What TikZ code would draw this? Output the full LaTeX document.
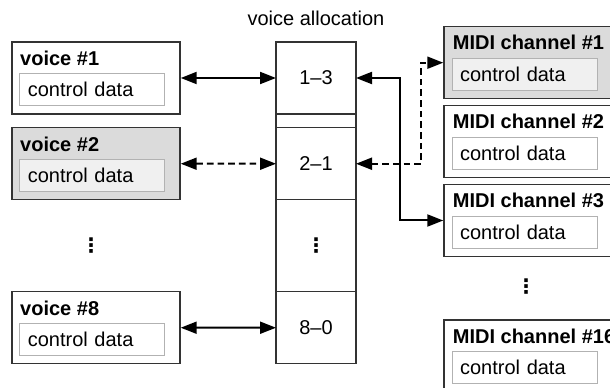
\documentclass[tikz,border=0pt]{standalone}
\usepackage{fontspec}
\setmainfont{Liberation Sans}
\newfontfamily\dotsfont{DejaVu Sans}
\usetikzlibrary{arrows.meta, positioning}

\begin{document}
\begin{tikzpicture}[
    x=0.75pt, y=-0.75pt,
    font=\fontsize{15}{17}\selectfont,
    chanbox/.style={rectangle, draw=black!80, line width=1.1pt, minimum width=126pt, minimum height=54pt, inner sep=0pt},
    databox/.style={rectangle, draw=black!30, line width=0.8pt, text width=96.75pt, minimum height=24pt, inner xsep=6pt, inner ysep=0pt, align=left, anchor=north west},
    celltitle/.style={font=\fontsize{15}{17}\selectfont\bfseries, inner sep=0pt, anchor=base west},
    alloccell/.style={rectangle, draw=black!80, line width=1.1pt, minimum width=60pt, inner sep=0pt, outer sep=0pt},
    vdotsmark/.style={font=\dotsfont\bfseries\fontsize{15}{17}\selectfont},
    link/.style={{Triangle[length=12pt,width=9pt]}-{Triangle[length=12pt,width=9pt]}, line width=1.5pt},
    dashlink/.style={link, dash pattern=on 5pt off 3pt}
]
\useasboundingbox (0,0) rectangle (610,388);
\clip (0,0) rectangle (610,388);

% voices
\node[chanbox] (voice1) at (96,78) {};
\node[celltitle] (voice1title) at ([xshift=6.5pt,yshift=-18.5pt]voice1.north west) {voice \#1};
\node[databox] (voice1data) at ([xshift=6pt,yshift=-24pt]voice1.north west) {control data};

\node[chanbox, fill=black!14] (voice2) at (96,163.7) {};
\node[celltitle] (voice2title) at ([xshift=6.5pt,yshift=-18.5pt]voice2.north west) {voice \#2};
\node[databox, fill=black!6] (voice2data) at ([xshift=6pt,yshift=-24pt]voice2.north west) {control data};

\node[vdotsmark] (voicedots) at (91,246) {⋮};

\node[chanbox] (voice8) at (96,327.7) {};
\node[celltitle] (voice8title) at ([xshift=6.5pt,yshift=-18.5pt]voice8.north west) {voice \#8};
\node[databox] (voice8data) at ([xshift=6pt,yshift=-24pt]voice8.north west) {control data};

% voice allocation table
\node[alloccell, minimum height=54pt] (alloc13) at (316,78) {1--3};
\node[alloccell, minimum height=10.3pt, below=0pt of alloc13] (allocgap) {};
\node[alloccell, minimum height=54pt, below=0pt of allocgap] (alloc21) {2--1};
\node[alloccell, minimum height=69pt, below=0pt of alloc21] (allocdots) {};
\node[vdotsmark] (allocdotsmark) at (allocdots) {⋮};
\node[alloccell, minimum height=54pt, below=0pt of allocdots] (alloc80) {8--0};
\node[anchor=base] (alloctitle) at (316,25.5) {voice allocation};

% MIDI channels
\node[chanbox, fill=black!14] (ch1) at (528,62.7) {};
\node[celltitle] (ch1title) at ([xshift=7pt,yshift=-18pt]ch1.north west) {MIDI channel \#1};
\node[databox, fill=black!6] (ch1data) at ([xshift=6.2pt,yshift=-24pt]ch1.north west) {control data};

\node[chanbox] (ch2) at (528,141.5) {};
\node[celltitle] (ch2title) at ([xshift=7pt,yshift=-18pt]ch2.north west) {MIDI channel \#2};
\node[databox] (ch2data) at ([xshift=6.2pt,yshift=-24pt]ch2.north west) {control data};

\node[chanbox] (ch3) at (528,220.5) {};
\node[celltitle] (ch3title) at ([xshift=7pt,yshift=-18pt]ch3.north west) {MIDI channel \#3};
\node[databox] (ch3data) at ([xshift=6.2pt,yshift=-24pt]ch3.north west) {control data};

\node[vdotsmark] (chdots) at (526,287) {⋮};

\node[chanbox] (ch16) at (528,356) {};
\node[celltitle] (ch16title) at ([xshift=7pt,yshift=-18pt]ch16.north west) {MIDI channel \#16};
\node[databox] (ch16data) at ([xshift=6.2pt,yshift=-24pt]ch16.north west) {control data};

% connections
\draw[link] (voice1) -- (alloc13);
\draw[dashlink] (voice2) -- (alloc21);
\draw[link] (voice8) -- (alloc80);
\draw[dashlink] (alloc21.east) -- ++(65,0) |- (ch1.west);
\draw[link] (alloc13.east) -- ++(44,0) |- (ch3.west);
\end{tikzpicture}
\end{document}
